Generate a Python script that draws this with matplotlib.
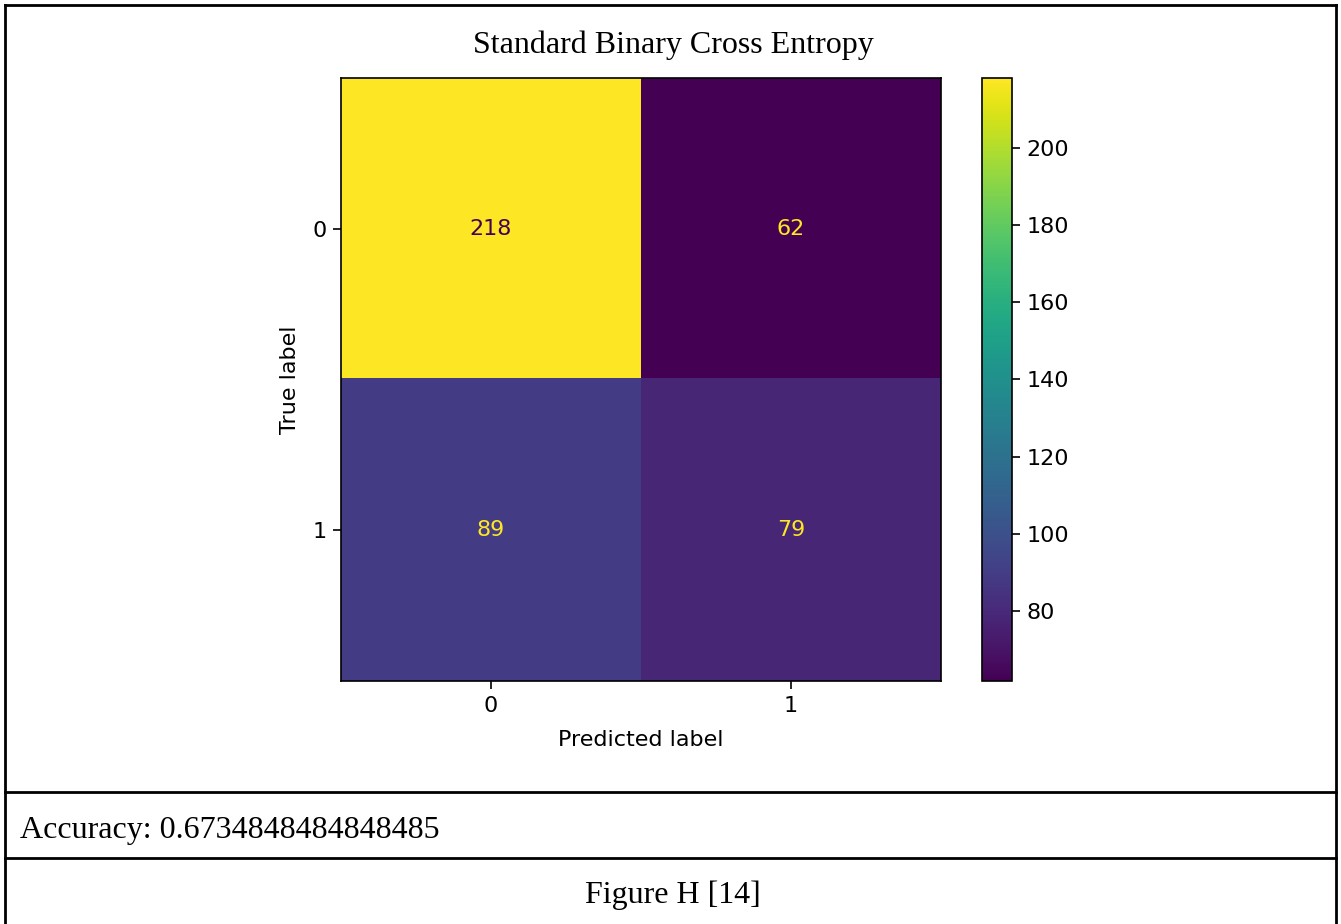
import numpy as np
import matplotlib
matplotlib.use("Agg")
import matplotlib.pyplot as plt
from matplotlib.lines import Line2D

# confusion matrix values
cm = np.array([[218, 62],
               [89, 79]])
class_labels = ["0", "1"]
title = "Standard Binary Cross Entropy"
accuracy_text = "Accuracy: 0.6734848484848485"
caption = "Figure H [14]"

fs = 16  # the embedded plot is a scaled-up matplotlib figure
tick_len = 5.6
tick_pad = 5.0

fig = plt.figure(figsize=(13.41, 9.24), dpi=100)

ax = fig.add_axes([0.2543, 0.263, 0.4474, 0.6526])
cax = fig.add_axes([0.7323, 0.263, 0.0224, 0.6526])

cmap = plt.get_cmap("viridis")
im = ax.imshow(cm, cmap=cmap, aspect="auto", interpolation="nearest")
cb = fig.colorbar(im, cax=cax)
cb.set_ticks([80, 100, 120, 140, 160, 180, 200])
cb.ax.tick_params(labelsize=fs, length=tick_len, width=1.2, pad=tick_pad)
cb.outline.set_linewidth(1.2)

thresh = (cm.max() + cm.min()) / 2.0
for i in range(cm.shape[0]):
    for j in range(cm.shape[1]):
        color = cmap(0) if cm[i, j] > thresh else cmap(256)
        ax.text(j, i, str(cm[i, j]), ha="center", va="center",
                color=color, fontsize=fs)

ax.set_xticks(range(len(class_labels)))
ax.set_yticks(range(len(class_labels)))
ax.set_xticklabels(class_labels, fontsize=fs)
ax.set_yticklabels(class_labels, fontsize=fs)
ax.tick_params(length=tick_len, width=1.2, pad=tick_pad)
for s in ax.spines.values():
    s.set_linewidth(1.2)
ax.set_xlabel("Predicted label", fontsize=fs, labelpad=10)
ax.set_ylabel("True label", fontsize=fs, labelpad=9)

serif = "Liberation Serif"
fig.text(0.5019, 0.9513, title, ha="center", va="center",
         family=serif, fontsize=23)
fig.text(0.0149, 0.1017, accuracy_text, ha="left", va="center",
         family=serif, fontsize=23)
fig.text(0.5019, 0.0314, caption, ha="center", va="center",
         family=serif, fontsize=23)

# table borders around the figure
lw = 2.0
fig.add_artist(Line2D([0.0037, 0.9963], [0.9946, 0.9946], color="black", lw=lw))
fig.add_artist(Line2D([0.0037, 0.0037], [0.0, 0.9946], color="black", lw=lw))
fig.add_artist(Line2D([0.9963, 0.9963], [0.0, 0.9946], color="black", lw=lw))
fig.add_artist(Line2D([0.0037, 0.9963], [0.1429, 0.1429], color="black", lw=lw))
fig.add_artist(Line2D([0.0037, 0.9963], [0.0714, 0.0714], color="black", lw=lw))

fig.savefig("out.png", dpi=100)
